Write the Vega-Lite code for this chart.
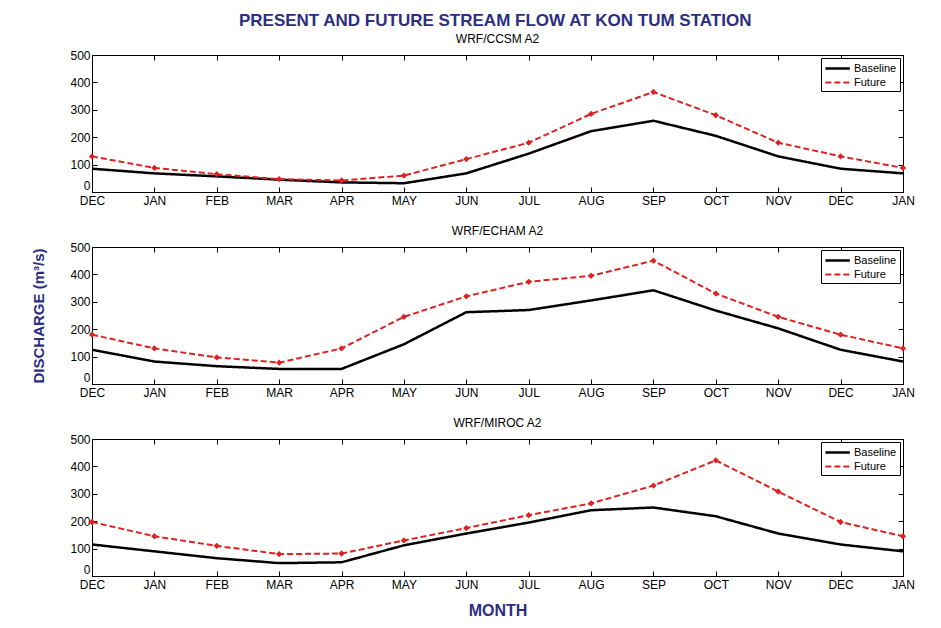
{
  "$schema": "https://vega.github.io/schema/vega-lite/v6.json",
  "background": "white",
  "padding": {"left": 31, "top": 11, "right": 12, "bottom": 6},
  "title": {"text": "PRESENT AND FUTURE STREAM FLOW AT KON TUM STATION", "font": "Liberation Sans Narrow, Liberation Sans", "fontSize": 17, "fontWeight": "bold", "color": "#2b2e83", "anchor": "middle", "offset": 3, "dx": 22},
  "datasets": {
    "flow": [
      {"panel": "CCSM", "m": 0, "series": "Baseline", "v": 85}, {"panel": "CCSM", "m": 1, "series": "Baseline", "v": 68}, {"panel": "CCSM", "m": 2, "series": "Baseline", "v": 57}, {"panel": "CCSM", "m": 3, "series": "Baseline", "v": 45}, {"panel": "CCSM", "m": 4, "series": "Baseline", "v": 35}, {"panel": "CCSM", "m": 5, "series": "Baseline", "v": 32}, {"panel": "CCSM", "m": 6, "series": "Baseline", "v": 68}, {"panel": "CCSM", "m": 7, "series": "Baseline", "v": 140}, {"panel": "CCSM", "m": 8, "series": "Baseline", "v": 222}, {"panel": "CCSM", "m": 9, "series": "Baseline", "v": 260}, {"panel": "CCSM", "m": 10, "series": "Baseline", "v": 205}, {"panel": "CCSM", "m": 11, "series": "Baseline", "v": 130}, {"panel": "CCSM", "m": 12, "series": "Baseline", "v": 85}, {"panel": "CCSM", "m": 13, "series": "Baseline", "v": 68},
      {"panel": "CCSM", "m": 0, "series": "Future", "v": 130}, {"panel": "CCSM", "m": 1, "series": "Future", "v": 88}, {"panel": "CCSM", "m": 2, "series": "Future", "v": 65}, {"panel": "CCSM", "m": 3, "series": "Future", "v": 47}, {"panel": "CCSM", "m": 4, "series": "Future", "v": 42}, {"panel": "CCSM", "m": 5, "series": "Future", "v": 60}, {"panel": "CCSM", "m": 6, "series": "Future", "v": 120}, {"panel": "CCSM", "m": 7, "series": "Future", "v": 180}, {"panel": "CCSM", "m": 8, "series": "Future", "v": 285}, {"panel": "CCSM", "m": 9, "series": "Future", "v": 365}, {"panel": "CCSM", "m": 10, "series": "Future", "v": 280}, {"panel": "CCSM", "m": 11, "series": "Future", "v": 180}, {"panel": "CCSM", "m": 12, "series": "Future", "v": 130}, {"panel": "CCSM", "m": 13, "series": "Future", "v": 88},
      {"panel": "ECHAM", "m": 0, "series": "Baseline", "v": 125}, {"panel": "ECHAM", "m": 1, "series": "Baseline", "v": 82}, {"panel": "ECHAM", "m": 2, "series": "Baseline", "v": 65}, {"panel": "ECHAM", "m": 3, "series": "Baseline", "v": 55}, {"panel": "ECHAM", "m": 4, "series": "Baseline", "v": 55}, {"panel": "ECHAM", "m": 5, "series": "Baseline", "v": 145}, {"panel": "ECHAM", "m": 6, "series": "Baseline", "v": 262}, {"panel": "ECHAM", "m": 7, "series": "Baseline", "v": 270}, {"panel": "ECHAM", "m": 8, "series": "Baseline", "v": 305}, {"panel": "ECHAM", "m": 9, "series": "Baseline", "v": 342}, {"panel": "ECHAM", "m": 10, "series": "Baseline", "v": 268}, {"panel": "ECHAM", "m": 11, "series": "Baseline", "v": 203}, {"panel": "ECHAM", "m": 12, "series": "Baseline", "v": 125}, {"panel": "ECHAM", "m": 13, "series": "Baseline", "v": 82},
      {"panel": "ECHAM", "m": 0, "series": "Future", "v": 180}, {"panel": "ECHAM", "m": 1, "series": "Future", "v": 130}, {"panel": "ECHAM", "m": 2, "series": "Future", "v": 97}, {"panel": "ECHAM", "m": 3, "series": "Future", "v": 78}, {"panel": "ECHAM", "m": 4, "series": "Future", "v": 130}, {"panel": "ECHAM", "m": 5, "series": "Future", "v": 245}, {"panel": "ECHAM", "m": 6, "series": "Future", "v": 320}, {"panel": "ECHAM", "m": 7, "series": "Future", "v": 373}, {"panel": "ECHAM", "m": 8, "series": "Future", "v": 395}, {"panel": "ECHAM", "m": 9, "series": "Future", "v": 450}, {"panel": "ECHAM", "m": 10, "series": "Future", "v": 330}, {"panel": "ECHAM", "m": 11, "series": "Future", "v": 245}, {"panel": "ECHAM", "m": 12, "series": "Future", "v": 180}, {"panel": "ECHAM", "m": 13, "series": "Future", "v": 130},
      {"panel": "MIROC", "m": 0, "series": "Baseline", "v": 115}, {"panel": "MIROC", "m": 1, "series": "Baseline", "v": 90}, {"panel": "MIROC", "m": 2, "series": "Baseline", "v": 65}, {"panel": "MIROC", "m": 3, "series": "Baseline", "v": 47}, {"panel": "MIROC", "m": 4, "series": "Baseline", "v": 50}, {"panel": "MIROC", "m": 5, "series": "Baseline", "v": 112}, {"panel": "MIROC", "m": 6, "series": "Baseline", "v": 155}, {"panel": "MIROC", "m": 7, "series": "Baseline", "v": 195}, {"panel": "MIROC", "m": 8, "series": "Baseline", "v": 240}, {"panel": "MIROC", "m": 9, "series": "Baseline", "v": 250}, {"panel": "MIROC", "m": 10, "series": "Baseline", "v": 218}, {"panel": "MIROC", "m": 11, "series": "Baseline", "v": 155}, {"panel": "MIROC", "m": 12, "series": "Baseline", "v": 115}, {"panel": "MIROC", "m": 13, "series": "Baseline", "v": 90},
      {"panel": "MIROC", "m": 0, "series": "Future", "v": 197}, {"panel": "MIROC", "m": 1, "series": "Future", "v": 145}, {"panel": "MIROC", "m": 2, "series": "Future", "v": 110}, {"panel": "MIROC", "m": 3, "series": "Future", "v": 80}, {"panel": "MIROC", "m": 4, "series": "Future", "v": 82}, {"panel": "MIROC", "m": 5, "series": "Future", "v": 130}, {"panel": "MIROC", "m": 6, "series": "Future", "v": 175}, {"panel": "MIROC", "m": 7, "series": "Future", "v": 222}, {"panel": "MIROC", "m": 8, "series": "Future", "v": 265}, {"panel": "MIROC", "m": 9, "series": "Future", "v": 330}, {"panel": "MIROC", "m": 10, "series": "Future", "v": 422}, {"panel": "MIROC", "m": 11, "series": "Future", "v": 308}, {"panel": "MIROC", "m": 12, "series": "Future", "v": 197}, {"panel": "MIROC", "m": 13, "series": "Future", "v": 145}
    ]
  },
  "data": {"name": "flow"},
  "spacing": 17,
  "resolve": {"scale": {"color": "independent", "strokeDash": "independent", "strokeWidth": "independent"}, "legend": {"color": "independent", "strokeDash": "independent", "strokeWidth": "independent"}},
  "vconcat": [
    {
      "title": {"text": "WRF/CCSM A2"},
      "width": 811, "height": 137,
      "transform": [{"filter": "datum.panel === 'CCSM'"}],
      "resolve": {"axis": {"x": "independent", "y": "independent"}},
      "layer": [
        {"mark": {"type": "line"},
         "encoding": {
           "x": {"field": "m", "type": "quantitative", "scale": {"domain": [0, 13], "nice": false, "zero": false}, "axis": {"values": [0,1,2,3,4,5,6,7,8,9,10,11,12,13], "labelExpr": "['DEC','JAN','FEB','MAR','APR','MAY','JUN','JUL','AUG','SEP','OCT','NOV','DEC','JAN'][datum.value]", "title": null, "labelPadding": 8}},
           "y": {"field": "v", "type": "quantitative", "scale": {"domain": [0, 500], "nice": false}, "axis": {"values": [0,100,200,300,400,500], "title": null, "labelBaseline": {"expr": "datum.value === 0 ? 'bottom' : 'middle'"}}},
           "color": {"field": "series", "type": "nominal", "scale": {"domain": ["Baseline", "Future"], "range": ["#000000", "#dd2222"]}, "legend": {"title": null}},
           "strokeDash": {"field": "series", "type": "nominal", "scale": {"domain": ["Baseline", "Future"], "range": [[1, 0], [6, 3]]}, "legend": {"title": null}},
           "strokeWidth": {"field": "series", "type": "nominal", "scale": {"domain": ["Baseline", "Future"], "range": [2.5, 2]}, "legend": {"title": null}}
         }},
        {"mark": {"type": "point", "shape": "diamond", "filled": true, "size": 40, "color": "#dd2222", "opacity": 1},
         "transform": [{"filter": "datum.series === 'Future'"}],
         "encoding": {
           "x": {"field": "m", "type": "quantitative", "axis": {"orient": "top", "values": [0,1,2,3,4,5,6,7,8,9,10,11,12,13], "labels": false, "domain": false, "title": null}},
           "y": {"field": "v", "type": "quantitative", "axis": {"orient": "right", "values": [0,100,200,300,400,500], "labels": false, "domain": false, "title": null}}
         }}
      ]
    },
    {
      "title": {"text": "WRF/ECHAM A2"},
      "width": 811, "height": 137,
      "transform": [{"filter": "datum.panel === 'ECHAM'"}],
      "resolve": {"axis": {"x": "independent", "y": "independent"}},
      "layer": [
        {"mark": {"type": "line"},
         "encoding": {
           "x": {"field": "m", "type": "quantitative", "scale": {"domain": [0, 13], "nice": false, "zero": false}, "axis": {"values": [0,1,2,3,4,5,6,7,8,9,10,11,12,13], "labelExpr": "['DEC','JAN','FEB','MAR','APR','MAY','JUN','JUL','AUG','SEP','OCT','NOV','DEC','JAN'][datum.value]", "title": null, "labelPadding": 8}},
           "y": {"field": "v", "type": "quantitative", "scale": {"domain": [0, 500], "nice": false}, "axis": {"values": [0,100,200,300,400,500], "labelBaseline": {"expr": "datum.value === 0 ? 'bottom' : 'middle'"}, "title": "DISCHARGE (m³/s)", "titleColor": "#2b2e83", "titleFontSize": 15, "titleFontWeight": "bold", "titleFont": "Liberation Sans", "titlePadding": 23}},
           "color": {"field": "series", "type": "nominal", "scale": {"domain": ["Baseline", "Future"], "range": ["#000000", "#dd2222"]}, "legend": {"title": null}},
           "strokeDash": {"field": "series", "type": "nominal", "scale": {"domain": ["Baseline", "Future"], "range": [[1, 0], [6, 3]]}, "legend": {"title": null}},
           "strokeWidth": {"field": "series", "type": "nominal", "scale": {"domain": ["Baseline", "Future"], "range": [2.5, 2]}, "legend": {"title": null}}
         }},
        {"mark": {"type": "point", "shape": "diamond", "filled": true, "size": 40, "color": "#dd2222", "opacity": 1},
         "transform": [{"filter": "datum.series === 'Future'"}],
         "encoding": {
           "x": {"field": "m", "type": "quantitative", "axis": {"orient": "top", "values": [0,1,2,3,4,5,6,7,8,9,10,11,12,13], "labels": false, "domain": false, "title": null}},
           "y": {"field": "v", "type": "quantitative", "axis": {"orient": "right", "values": [0,100,200,300,400,500], "labels": false, "domain": false, "title": null}}
         }}
      ]
    },
    {
      "title": {"text": "WRF/MIROC A2"},
      "width": 811, "height": 137,
      "transform": [{"filter": "datum.panel === 'MIROC'"}],
      "resolve": {"axis": {"x": "independent", "y": "independent"}},
      "layer": [
        {"mark": {"type": "line"},
         "encoding": {
           "x": {"field": "m", "type": "quantitative", "scale": {"domain": [0, 13], "nice": false, "zero": false}, "axis": {"values": [0,1,2,3,4,5,6,7,8,9,10,11,12,13], "labelExpr": "['DEC','JAN','FEB','MAR','APR','MAY','JUN','JUL','AUG','SEP','OCT','NOV','DEC','JAN'][datum.value]", "labelPadding": 8, "title": "MONTH", "titleColor": "#2b2e83", "titleFontSize": 16, "titleFontWeight": "bold", "titleFont": "Liberation Sans Narrow, Liberation Sans", "titlePadding": 12}},
           "y": {"field": "v", "type": "quantitative", "scale": {"domain": [0, 500], "nice": false}, "axis": {"values": [0,100,200,300,400,500], "title": null, "labelBaseline": {"expr": "datum.value === 0 ? 'bottom' : 'middle'"}}},
           "color": {"field": "series", "type": "nominal", "scale": {"domain": ["Baseline", "Future"], "range": ["#000000", "#dd2222"]}, "legend": {"title": null}},
           "strokeDash": {"field": "series", "type": "nominal", "scale": {"domain": ["Baseline", "Future"], "range": [[1, 0], [6, 3]]}, "legend": {"title": null}},
           "strokeWidth": {"field": "series", "type": "nominal", "scale": {"domain": ["Baseline", "Future"], "range": [2.5, 2]}, "legend": {"title": null}}
         }},
        {"mark": {"type": "point", "shape": "diamond", "filled": true, "size": 40, "color": "#dd2222", "opacity": 1},
         "transform": [{"filter": "datum.series === 'Future'"}],
         "encoding": {
           "x": {"field": "m", "type": "quantitative", "axis": {"orient": "top", "values": [0,1,2,3,4,5,6,7,8,9,10,11,12,13], "labels": false, "domain": false, "title": null}},
           "y": {"field": "v", "type": "quantitative", "axis": {"orient": "right", "values": [0,100,200,300,400,500], "labels": false, "domain": false, "title": null}}
         }}
      ]
    }
  ],
  "config": {
    "view": {"stroke": "#000000", "strokeWidth": 1},
    "title": {"fontSize": 12, "fontWeight": "normal", "font": "Liberation Sans Narrow, Liberation Sans", "color": "#000000", "offset": 3},
    "axis": {"grid": false, "tickSize": -5, "tickColor": "#000000", "domainColor": "#000000", "labelColor": "#000000", "labelFont": "Liberation Sans Narrow, Liberation Sans", "labelFontSize": 12, "labelFlush": false, "labelOverlap": false, "labelPadding": 7},
    "legend": {"orient": "top-right", "offset": 3, "strokeColor": "#000000", "fillColor": "#ffffff", "padding": 3, "symbolType": "M-1,0H3", "symbolSize": 150, "labelFont": "Liberation Sans Narrow, Liberation Sans", "labelFontSize": 11, "labelColor": "#000000", "rowPadding": 1, "labelOffset": 15, "cornerRadius": 0}
  }
}
